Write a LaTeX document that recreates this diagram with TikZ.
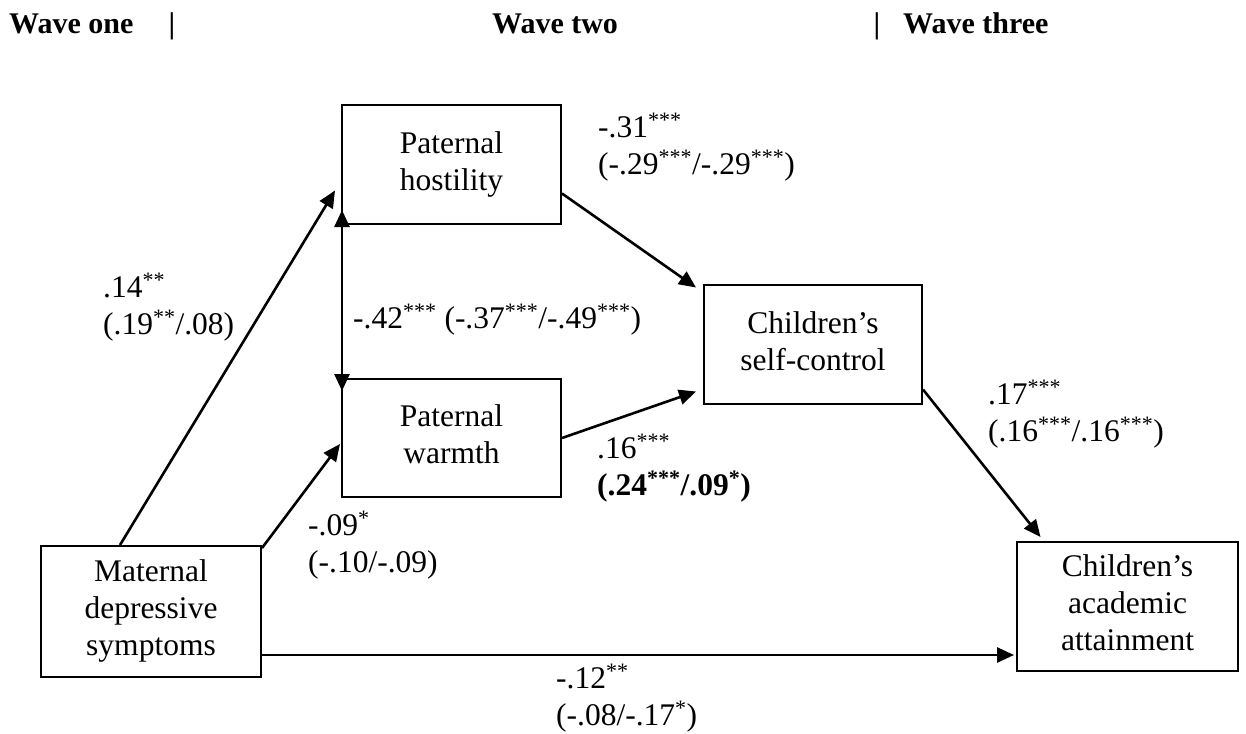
\documentclass[tikz,border=0pt]{standalone}
\usepackage{fontspec}
\setmainfont{Liberation Serif}
\usetikzlibrary{arrows.meta,calc}
\newcommand\twolines[2]{\begin{tabular}[t]{@{}l@{}}#1\\#2\end{tabular}}
\newcommand\boxtext[2]{\raisebox{#1}{\begin{tabular}{@{}c@{}}#2\end{tabular}}}
\newcommand\sig[1]{\textsuperscript{#1}}
\tikzset{
  every node/.style={font=\fontsize{31.5}{37}\selectfont},
  box/.style={draw, line width=2pt, inner sep=0pt},
  arr/.style={line width=2.6pt, -{Triangle[length=17pt,width=15pt]}},
  darr/.style={line width=2.6pt, {Triangle[length=17pt,width=15pt]}-{Triangle[length=17pt,width=15pt]}},
  lbl/.style={anchor=base west, inner sep=0pt},
  head/.style={anchor=base west, inner sep=0pt, font=\fontsize{30}{36}\selectfont\bfseries},
}
\begin{document}
\begin{tikzpicture}[x=1pt,y=-1pt]
\useasboundingbox (0,0) rectangle (1246,733);
% header
\node[head] (h1) at (9,34) {Wave one};
\node[head,anchor=base] (s1) at (172,34) {|};
\node[head] (h2) at (492,34) {Wave two};
\node[head,anchor=base] (s2) at (877,34) {|};
\node[head] (h3) at (903,34) {Wave three};
% boxes
\node[box, minimum width=219pt, minimum height=119pt] (hos) at (451.5,164.5) {\boxtext{11pt}{Paternal\\hostility}};
\node[box, minimum width=219pt, minimum height=118pt] (war) at (451.5,438) {\boxtext{10pt}{Paternal\\warmth}};
\node[box, minimum width=218pt, minimum height=119pt] (sc) at (813,344.5) {\boxtext{11pt}{Children’s\\self-control}};
\node[box, minimum width=220pt, minimum height=131pt] (mat) at (151,611.5) {\boxtext{-1pt}{Maternal\\depressive\\symptoms}};
\node[box, minimum width=221pt, minimum height=129pt] (ac) at (1127.5,606.5) {\boxtext{0pt}{Children’s\\academic\\attainment}};
% connectors
\draw[arr] ([xshift=80pt]mat.north west) -- ([xshift=-6pt,yshift=-26pt]hos.west);
\draw[arr] ([yshift=-3pt]mat.north east) -- ([xshift=-1pt,yshift=-6pt]war.west);
\draw[arr] ([yshift=-29pt]hos.east) -- ([xshift=-7pt,yshift=57pt]sc.west);
\draw[arr] (war.east) -- ([xshift=-7pt,yshift=-47pt]sc.west);
\draw[arr] ([yshift=-45pt]sc.east) -- ([xshift=-87pt,yshift=4pt]ac.north);
\draw[arr] (mat.east |- 0,655) -- ([xshift=-2pt]ac.west |- 0,655);
\draw[darr] ([xshift=1pt,yshift=15pt]hos.south west) -- ([xshift=1pt,yshift=-13pt]war.north west);
% labels
\node[lbl] (l1) at (103,297) {\twolines{.14\sig{**}}{(.19\sig{**}/.08)}};
\node[lbl] (l2) at (353,328) {-.42\sig{***} (-.37\sig{***}/-.49\sig{***})};
\node[lbl] (l3) at (598,137) {\twolines{-.31\sig{***}}{(-.29\sig{***}/-.29\sig{***})}};
\node[lbl] (l4) at (597,458) {\twolines{.16\sig{***}}{\textbf{(.24\sig{***}/.09\sig{*})}}};
\node[lbl] (l5) at (308,535) {\twolines{-.09\sig{*}}{(-.10/-.09)}};
\node[lbl] (l6) at (988,404) {\twolines{.17\sig{***}}{(.16\sig{***}/.16\sig{***})}};
\node[lbl] (l7) at (556,688) {\twolines{-.12\sig{**}}{(-.08/-.17\sig{*})}};
\end{tikzpicture}
\end{document}
